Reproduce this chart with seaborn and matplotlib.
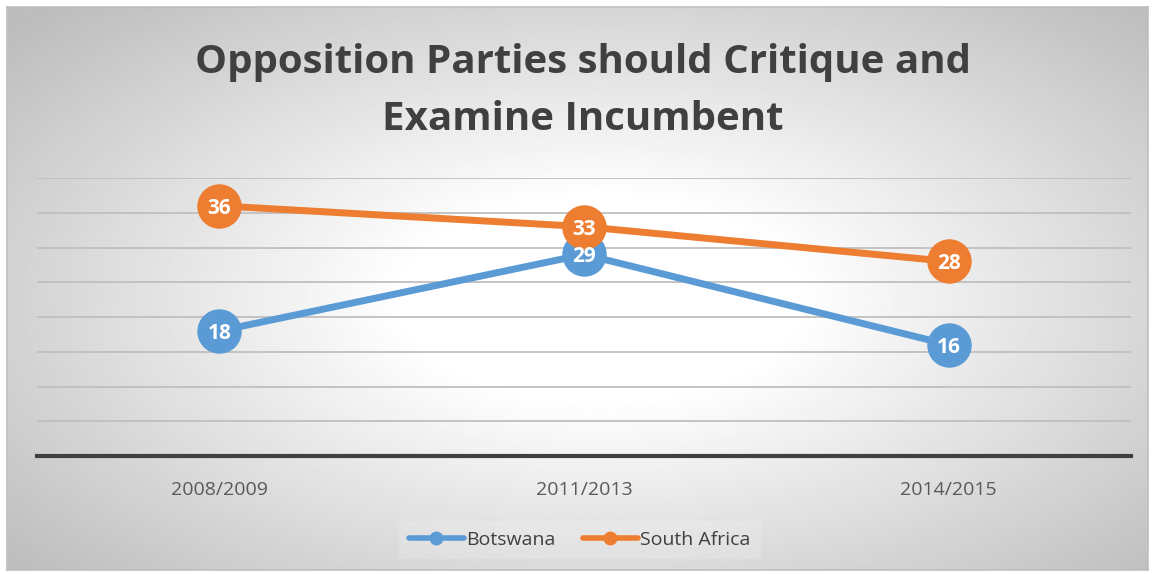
import numpy as np
import pandas as pd
import matplotlib
matplotlib.use("Agg")
import matplotlib.pyplot as plt
from matplotlib.lines import Line2D
import seaborn as sns

# Survey results: share agreeing that opposition parties should critique the incumbent
periods = ["2008/2009", "2011/2013", "2014/2015"]
botswana = [18, 29, 16]
south_africa = [36, 33, 28]
series_names = ["Botswana", "South Africa"]
series_colors = ["#5b9bd5", "#ed7d31"]
title_text = "Opposition Parties should Critique and\nExamine Incumbent"

df = pd.DataFrame({
    "period": periods * 2,
    "value": botswana + south_africa,
    "country": [series_names[0]] * 3 + [series_names[1]] * 3,
})

sns.set_theme(style="white")
plt.rcParams["font.family"] = ["Open Sans", "DejaVu Sans"]

W, H = 1153, 574
fig = plt.figure(figsize=(W / 100, H / 100), dpi=100)
fig.patch.set_facecolor("white")

# Chart area with a radial white-to-grey fill
fx0, fy0, fx1, fy1 = 7, 7, 1148, 570
bg = fig.add_axes([fx0 / W, 1 - fy1 / H, (fx1 - fx0) / W, (fy1 - fy0) / H])
gx, gy = np.meshgrid(np.linspace(fx0, fx1, 600), np.linspace(fy0, fy1, 300))
d = np.sqrt(((gx - 600) / 560) ** 2 + ((gy - 300) / 290) ** 2)
shade = 1 - 0.26 * np.clip((d - 0.35) / 1.05, 0, 1)
bg.imshow(shade, cmap="gray", vmin=0, vmax=1, aspect="auto", interpolation="bilinear")
bg.set_xticks([])
bg.set_yticks([])
for s in bg.spines.values():
    s.set_color("#bfbfbf")
    s.set_linewidth(1.2)

# Plot area
px0, px1, py_top, py_base = 37, 1131, 178, 456
ax = fig.add_axes([px0 / W, 1 - py_base / H, (px1 - px0) / W, (py_base - py_top) / H])
ax.patch.set_alpha(0)

sns.lineplot(data=df, x="period", y="value", hue="country",
             palette=series_colors, hue_order=series_names,
             marker="o", markersize=32, markeredgewidth=0,
             linewidth=5, legend=False, ax=ax, sort=False, zorder=3)

ax.set_xlim(-0.5, 2.5)
ax.set_ylim(0, 40)
ax.set_yticks(np.arange(5, 45, 5))
ax.yaxis.grid(True, color="#bfbfbf", linewidth=1.3)
ax.set_axisbelow(True)
ax.set_yticklabels([])
ax.tick_params(axis="y", length=0)
ax.tick_params(axis="x", length=0, pad=18, labelsize=14, labelcolor="#595959")
ax.set_xlabel("")
ax.set_ylabel("")
for side in ["top", "left", "right"]:
    ax.spines[side].set_visible(False)
ax.spines["bottom"].set_color("#404040")
ax.spines["bottom"].set_linewidth(3)

# Data labels inside the markers
for vals in (botswana, south_africa):
    for i, v in enumerate(vals):
        ax.text(i, v, str(v), ha="center", va="center_baseline", color="white",
                fontsize=15, fontweight="bold", zorder=5)

# Title
fig.text(583 / W, 1 - 91 / H, title_text, ha="center", va="center",
         fontsize=29, fontweight="bold", color="#404040", linespacing=1.58)

# Legend
handles = [Line2D([0], [0], color=c, linewidth=4, marker="o", markersize=9,
                  solid_capstyle="round") for c in series_colors]
leg = fig.legend(handles, series_names, loc="center", bbox_to_anchor=(580 / W, 1 - 540 / H),
                 ncol=2, frameon=True, fontsize=14, labelcolor="#404040",
                 handlelength=2.8, handletextpad=0.15, columnspacing=1.4,
                 borderpad=0.5, fancybox=False)
leg.get_frame().set_facecolor("white")
leg.get_frame().set_alpha(0.15)
leg.get_frame().set_linewidth(0)

fig.savefig("out.png", dpi=100)
